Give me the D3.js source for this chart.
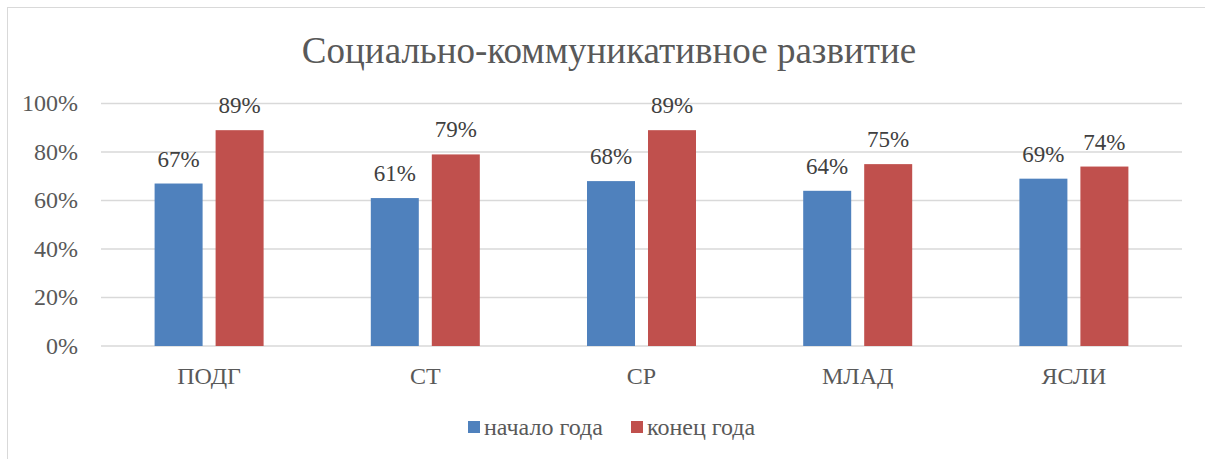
<!DOCTYPE html>
<html>
<head>
<meta charset="utf-8">
<script src="https://cdn.jsdelivr.net/npm/d3@7"></script>
<style>
  html, body { margin: 0; padding: 0; background: #fff; }
</style>
</head>
<body>
<div id="chart"></div>
<script>
const categories = ["ПОДГ", "СТ", "СР", "МЛАД", "ЯСЛИ"];
const seriesNames = ["начало года", "конец года"];
const startValues = [0.67, 0.61, 0.68, 0.64, 0.69];
const endValues = [0.89, 0.79, 0.89, 0.75, 0.74];
const yTicks = [0, 0.2, 0.4, 0.6, 0.8, 1.0];
const colors = ["#4f81bd", "#c0504d"];

const W = 1205, H = 459;
const margin = { left: 101, right: 23, top: 103.5, bottom: 113 };
const FONT = "Liberation Serif";

const svg = d3.select("#chart").append("svg")
  .attr("width", W).attr("height", H)
  .attr("font-family", FONT)
  .style("display", "block");

// chart frame
svg.append("rect")
  .attr("x", 7.5).attr("y", 7.5)
  .attr("width", W + 20).attr("height", H + 20)
  .attr("fill", "#fff").attr("stroke", "#d9d9d9");

const x = d3.scaleBand()
  .domain(categories)
  .range([margin.left, W - margin.right]);

const y = d3.scaleLinear()
  .domain([0, 1])
  .range([H - margin.bottom, margin.top]);

// gridlines
svg.append("g")
  .selectAll("line")
  .data(yTicks)
  .join("line")
  .attr("x1", margin.left).attr("x2", W - margin.right)
  .attr("y1", d => y(d)).attr("y2", d => y(d))
  .attr("stroke", "#d9d9d9").attr("stroke-width", 1.3);

// y tick labels
svg.append("g")
  .selectAll("text")
  .data(yTicks)
  .join("text")
  .attr("x", 78).attr("y", d => y(d))
  .attr("dy", "0.33em")
  .attr("text-anchor", "end")
  .attr("font-family", FONT)
  .attr("fill", "#595959")
  .attr("font-size", 24)
  .text(d3.format(".0%"));

// bars
const barW = 48, gap = 13;
const rows = categories.map((c, i) => ({ c, vals: [startValues[i], endValues[i]] }));

const groups = svg.append("g")
  .selectAll("g")
  .data(rows)
  .join("g")
  .attr("transform", d => `translate(${x(d.c) + x.bandwidth() / 2},0)`);

groups.selectAll("rect")
  .data(d => d.vals)
  .join("rect")
  .attr("x", (d, j) => j === 0 ? -(barW + gap / 2) : gap / 2)
  .attr("y", d => y(d))
  .attr("width", barW)
  .attr("height", d => y(0) - y(d))
  .attr("fill", (d, j) => colors[j]);

groups.selectAll("text")
  .data(d => d.vals)
  .join("text")
  .attr("x", (d, j) => j === 0 ? -(barW / 2 + gap / 2) : barW / 2 + gap / 2)
  .attr("y", d => y(d) - 17)
  .attr("text-anchor", "middle")
  .attr("font-family", FONT)
  .attr("fill", "#404040")
  .attr("font-size", 23)
  .text(d => d3.format(".0%")(d));

// category labels
svg.append("g")
  .selectAll("text")
  .data(categories)
  .join("text")
  .attr("x", d => x(d) + x.bandwidth() / 2)
  .attr("y", 384)
  .attr("text-anchor", "middle")
  .attr("font-family", FONT)
  .attr("fill", "#595959")
  .attr("font-size", 24)
  .text(d => d);

// title
svg.append("text")
  .attr("x", 609).attr("y", 63)
  .attr("text-anchor", "middle")
  .attr("font-family", FONT)
  .attr("fill", "#595959")
  .attr("font-size", 37)
  .text("Социально-коммуникативное развитие");

// legend
const legendX = [468, 631];
const legend = svg.append("g")
  .selectAll("g")
  .data(seriesNames)
  .join("g")
  .attr("transform", (d, i) => `translate(${legendX[i]},421)`);

legend.append("rect")
  .attr("width", 12).attr("height", 12)
  .attr("fill", (d, i) => colors[i]);

legend.append("text")
  .attr("x", 16).attr("y", 14)
  .attr("font-family", FONT)
  .attr("fill", "#595959")
  .attr("font-size", 24)
  .text(d => d);
</script>
</body>
</html>
